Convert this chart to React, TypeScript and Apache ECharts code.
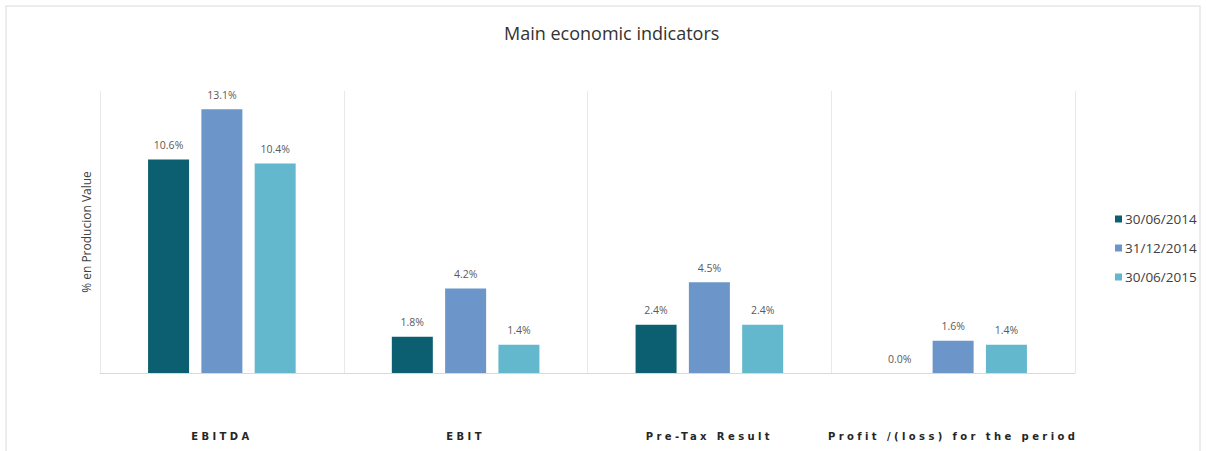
import React, { useEffect, useRef } from "react";
import * as echarts from "echarts";

const categories = ["EBITDA", "EBIT", "Pre-Tax Result", "Profit /(loss) for the period"];
const seriesNames = ["30/06/2014", "31/12/2014", "30/06/2015"];
const values2014H1 = [10.6, 1.8, 2.4, 0.0];
const values2014FY = [13.1, 4.2, 4.5, 1.6];
const values2015H1 = [10.4, 1.4, 2.4, 1.4];
const colors = ["#0c5f70", "#6c95c9", "#63b8cd"];

export default function App() {
  const ref = useRef<HTMLDivElement>(null);
  useEffect(() => {
    if (!ref.current) return;
    const chart = echarts.init(ref.current, null, { renderer: "svg" });
    const data = [values2014H1, values2014FY, values2015H1];
    chart.setOption({
      animation: false,
      backgroundColor: "#ffffff",
      title: {
        text: "Main economic indicators",
        left: 499,
        top: 19,
        textStyle: { fontFamily: "Open Sans", fontSize: 18, fontWeight: "normal", color: "#333333" },
      },
      legend: {
        orient: "vertical",
        left: 1110,
        top: 207,
        itemWidth: 7,
        itemHeight: 7,
        itemGap: 15,
        icon: "rect",
        data: seriesNames,
        textStyle: { fontFamily: "Open Sans", fontSize: 13.5, color: "#404040", padding: [0, 0, 0, -2] },
      },
      graphic: [
        {
          type: "rect",
          shape: { x: 6, y: 6, width: 1194, height: 460 },
          style: { fill: "none", stroke: "#e6e6e6", lineWidth: 1.5 },
          silent: true,
        },
      ],
      grid: { left: 100, right: 131, top: 91, bottom: 78, containLabel: false },
      xAxis: {
        type: "category",
        data: categories,
        axisLine: { show: true, lineStyle: { color: "#d9d9d9", width: 1 } },
        axisTick: { show: false },
        splitLine: { show: true, lineStyle: { color: "#e9e9e9", width: 1 } },
        axisLabel: {
          margin: 58,
          interval: 0,
          fontFamily: "DejaVu Sans",
          fontWeight: "bold",
          fontSize: 10,
          color: "#262626",
        },
      },
      yAxis: {
        type: "value",
        min: 0,
        max: 14,
        name: "% en Producion Value",
        nameLocation: "middle",
        nameGap: 8,
        nameRotate: 90,
        nameTextStyle: { fontFamily: "Open Sans", fontSize: 12, color: "#404040" },
        axisLine: { show: false },
        axisTick: { show: false },
        axisLabel: { show: false },
        splitLine: { show: false },
      },
      series: seriesNames.map((name, i) => ({
        name,
        type: "bar",
        data: data[i],
        barWidth: 41,
        barGap: "30%",
        itemStyle: { color: colors[i] },
        label: {
          show: true,
          position: "top",
          distance: 9,
          fontFamily: "Open Sans",
          fontSize: 10.5,
          color: "#5a5a5a",
          formatter: (p: any) => Number(p.value).toFixed(1) + "%",
        },
      })),
    });
    const applySpacing = () => {
      const texts = ref.current?.querySelectorAll("svg text") || [];
      texts.forEach((t) => {
        if (categories.includes((t.textContent || "").trim())) {
          (t as SVGTextElement).setAttribute("letter-spacing", "3.4");
        }
      });
    };
    applySpacing();
    chart.on("finished", applySpacing);
    return () => chart.dispose();
  }, []);
  return (
    <div
      ref={ref}
      style={{ position: "fixed", left: 0, top: 0, width: 1206, height: 451, background: "#fff" }}
    />
  );
}
